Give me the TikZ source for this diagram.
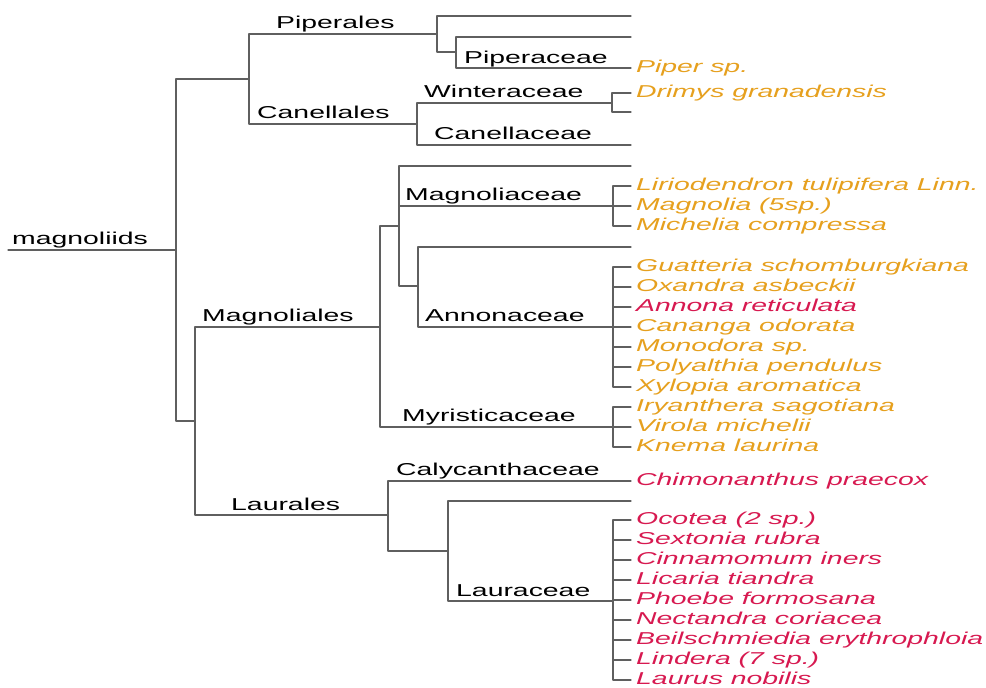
\documentclass[tikz,border=0pt]{standalone}
\usepackage{fontspec}
\newfontfamily\labfont{Liberation Sans}[FakeStretch=1.65]
\definecolor{branch}{RGB}{95,95,95}
\definecolor{leaforange}{RGB}{230,160,30}
\definecolor{leafred}{RGB}{215,25,80}
\tikzset{
  edge/.style={draw=branch, line width=1.1pt, line join=round, line cap=round},
  lab/.style={inner sep=0pt, anchor=base west, text=black, font=\labfont\fontsize{17.2}{19}\selectfont},
  leaf/.style={inner sep=0pt, anchor=base west, xshift=5pt, yshift=-4.6pt, font=\labfont\itshape\fontsize{17.2}{19}\selectfont},
  lo/.style={leaf, text=leaforange},
  lr/.style={leaf, text=leafred}
}
\begin{document}
\begin{tikzpicture}[x={(1pt,0)}, y={(0,-1pt)}]
\useasboundingbox (0,0) rectangle (986,688);
% internal nodes
\coordinate (stem) at (8,250);
\coordinate (root) at (176,250);
\coordinate (n1) at (249,79);
\coordinate (pip) at (437,34);
\coordinate (piperaceae) at (456,52);
\coordinate (can) at (417,124);
\coordinate (winter) at (612,103);
\coordinate (n2) at (195,421);
\coordinate (mag) at (380,327);
\coordinate (magA) at (399,226);
\coordinate (magnoliaceae) at (613,206);
\coordinate (annon) at (418,286);
\coordinate (annonB) at (613,327);
\coordinate (myris) at (613,427);
\coordinate (laur) at (388,515);
\coordinate (lauraceae) at (448,551);
\coordinate (lauB) at (613,601);
% leaf ends
\foreach \n/\y in {a/16,b/37,c/68,d/93,e/112,f/145,g/166,h/186,i/206,j/226,k/247,
  l/267,m/287,n/307,o/327,p/347,q/367,r/387,s/407,t/427,u/447,v/481,w/501,
  x1/520,x2/540,x3/560,x4/580,x5/600,x6/620,x7/640,x8/660,x9/680}
  \coordinate (L\n) at (631,\y);
% edges
\draw[edge] (stem) -- (root);
\draw[edge] (root) |- (n1);
\draw[edge] (root) |- (n2);
\draw[edge] (n1) |- (pip);
\draw[edge] (n1) |- (can);
\draw[edge] (pip) |- (La);
\draw[edge] (pip) |- (piperaceae);
\draw[edge] (piperaceae) |- (Lb);
\draw[edge] (piperaceae) |- (Lc);
\draw[edge] (can) |- (winter);
\draw[edge] (can) |- (Lf);
\draw[edge] (winter) |- (Ld);
\draw[edge] (winter) |- (Le);
\draw[edge] (n2) |- (mag);
\draw[edge] (n2) |- (laur);
\draw[edge] (mag) |- (magA);
\draw[edge] (mag) |- (myris);
\draw[edge] (magA) |- (Lg);
\draw[edge] (magA) |- (magnoliaceae);
\draw[edge] (magA) |- (annon);
\foreach \t in {h,i,j} \draw[edge] (magnoliaceae) |- (L\t);
\draw[edge] (annon) |- (Lk);
\draw[edge] (annon) |- (annonB);
\foreach \t in {l,m,n,o,p,q,r} \draw[edge] (annonB) |- (L\t);
\foreach \t in {s,t,u} \draw[edge] (myris) |- (L\t);
\draw[edge] (laur) |- (Lv);
\draw[edge] (laur) |- (lauraceae);
\draw[edge] (lauraceae) |- (Lw);
\draw[edge] (lauraceae) |- (lauB);
\foreach \t in {x1,x2,x3,x4,x5,x6,x7,x8,x9} \draw[edge] (lauB) |- (L\t);
% clade labels
\node[lab] (tmagnoliids) at (12,244) {magnoliids};
\node[lab] (tpiperales) at (276,28) {Piperales};
\node[lab] (tcanellales) at (257,118) {Canellales};
\node[lab] (tpiperaceae) at (464,63) {Piperaceae};
\node[lab] (twinteraceae) at (424,97) {Winteraceae};
\node[lab] (tcanellaceae) at (434,139) {Canellaceae};
\node[lab] (tmagnoliaceae) at (405,200) {Magnoliaceae};
\node[lab] (tannonaceae) at (425,321) {Annonaceae};
\node[lab] (tmyristicaceae) at (402,421) {Myristicaceae};
\node[lab] (tmagnoliales) at (202,321) {Magnoliales};
\node[lab] (tlaurales) at (231,510) {Laurales};
\node[lab] (tcalycanthaceae) at (396,475) {Calycanthaceae};
\node[lab] (tlauraceae) at (456,596) {Lauraceae};
% leaf labels
\node[lo] (s1) at (Lc) {Piper sp.};
\node[lo] (s2) at (Ld) {Drimys granadensis};
\node[lo] (s3) at (Lh) {Liriodendron tulipifera Linn.};
\node[lo] (s4) at (Li) {Magnolia (5sp.)};
\node[lo] (s5) at (Lj) {Michelia compressa};
\node[lo] (s6) at (Ll) {Guatteria schomburgkiana};
\node[lo] (s7) at (Lm) {Oxandra asbeckii};
\node[lr] (s8) at (Ln) {Annona reticulata};
\node[lo] (s9) at (Lo) {Cananga odorata};
\node[lo] (s10) at (Lp) {Monodora sp.};
\node[lo] (s11) at (Lq) {Polyalthia pendulus};
\node[lo] (s12) at (Lr) {Xylopia aromatica};
\node[lo] (s13) at (Ls) {Iryanthera sagotiana};
\node[lo] (s14) at (Lt) {Virola michelii};
\node[lo] (s15) at (Lu) {Knema laurina};
\node[lr] (s16) at (Lv) {Chimonanthus praecox};
\node[lr] (s17) at (Lx1) {Ocotea (2 sp.)};
\node[lr] (s18) at (Lx2) {Sextonia rubra};
\node[lr] (s19) at (Lx3) {Cinnamomum iners};
\node[lr] (s20) at (Lx4) {Licaria tiandra};
\node[lr] (s21) at (Lx5) {Phoebe formosana};
\node[lr] (s22) at (Lx6) {Nectandra coriacea};
\node[lr] (s23) at (Lx7) {Beilschmiedia erythrophloia};
\node[lr] (s24) at (Lx8) {Lindera (7 sp.)};
\node[lr] (s25) at (Lx9) {Laurus nobilis};
\end{tikzpicture}
\end{document}
